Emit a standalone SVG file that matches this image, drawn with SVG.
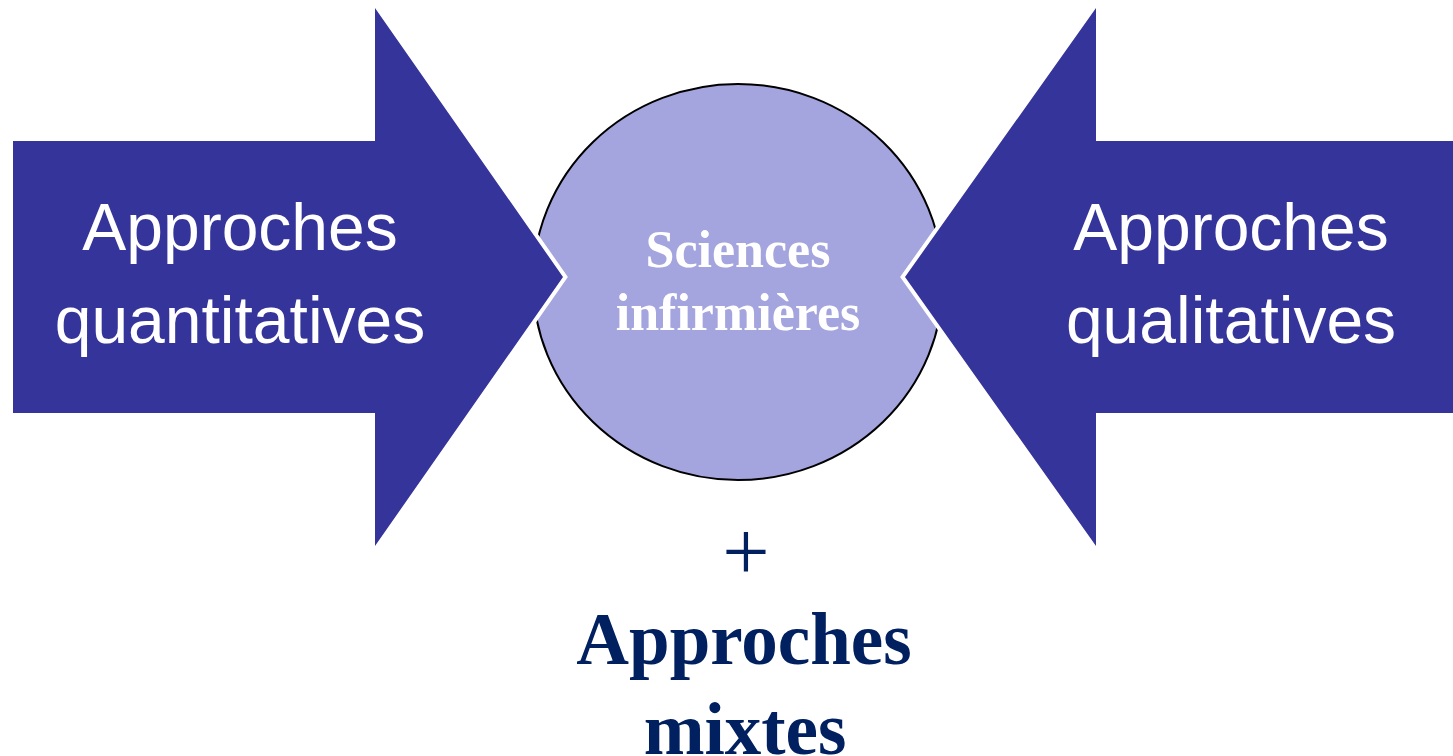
<svg xmlns="http://www.w3.org/2000/svg" width="1453" height="756" viewBox="0 0 1453 756">
<style>
.arrow{fill:#35349A;stroke:#FFFFFF;stroke-width:8;stroke-linejoin:miter;paint-order:stroke}
.sans{font-family:"Liberation Sans",Arial,sans-serif;font-size:66px;fill:#FFFFFF;text-anchor:middle}
.serif{font-family:"Liberation Serif","Times New Roman",serif;text-anchor:middle}
</style>
<rect width="1453" height="756" fill="#FFFFFF"/>
<g id="center">
<ellipse cx="738" cy="282" rx="205" ry="198" fill="#A4A4DE" stroke="#000000" stroke-width="2"/>
<text class="serif" x="738" y="267" font-size="52" font-weight="bold" fill="#FFFFFF">Sciences</text>
<text class="serif" x="738" y="330" font-size="52" font-weight="bold" fill="#FFFFFF">infirmières</text>
</g>
<g id="left-arrow">
<polygon class="arrow" points="13,141 375,141 375,8 563,277 375,546 375,413 13,413"/>
<text class="sans" x="240" y="250">Approches</text>
<text class="sans" x="240" y="343">quantitatives</text>
</g>
<g id="right-arrow">
<polygon class="arrow" points="1460,141 1096,141 1096,8 905,277 1096,546 1096,413 1460,413"/>
<text class="sans" x="1231" y="250">Approches</text>
<text class="sans" x="1231" y="343">qualitatives</text>
</g>
<g id="mixed">
<text class="serif" x="746" y="580" font-size="84" fill="#002060">+</text>
<text class="serif" x="744" y="664" font-size="73" font-weight="bold" fill="#002060">Approches</text>
<text class="serif" x="745" y="754" font-size="73" font-weight="bold" fill="#002060">mixtes</text>
</g>
<g id="connectors"/>
</svg>
